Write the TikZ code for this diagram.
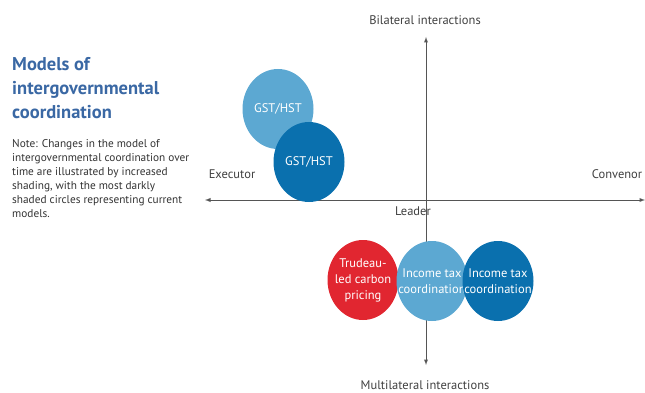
\documentclass[tikz,border=0pt]{standalone}
\usepackage{fontspec}
\setmainfont{PT Sans}
\usetikzlibrary{shapes.geometric}

\definecolor{paleblue}{RGB}{92,168,210}
\definecolor{deepblue}{RGB}{10,112,174}
\definecolor{carbonred}{RGB}{225,38,48}
\definecolor{titleblue}{RGB}{58,104,164}
\definecolor{axisgray}{RGB}{85,85,85}

\begin{document}
	\begin{tikzpicture}[x=1pt,y=-1pt,>=latex,
			axis/.style={draw=axisgray, line width=0.9pt},
			axislabel/.style={text=black!75, font=\fontsize{12.5}{14}\selectfont},
			bubble/.style={ellipse, minimum width=71pt, minimum height=80pt, inner sep=0pt},
			past/.style={bubble, fill=paleblue},
			current/.style={bubble, fill=deepblue},
			carbon/.style={bubble, fill=carbonred},
			bubbletext/.style={text=white, align=center, font=\fontsize{12.5}{16}\selectfont}]
		\useasboundingbox (0,0) rectangle (645,393);

		% heading and note
		\node [anchor=north west, align=left, text=titleblue, inner sep=0pt,
			font=\fontsize{18.5}{24}\selectfont\bfseries] (title) at (12,57)
			{Models of\\ intergovernmental\\ coordination};
		\node [anchor=north west, align=left, text=black!80, inner sep=0pt,
			font=\fontsize{11.3}{14}\selectfont] (note) at (12,139)
			{Note: Changes in the model of\\ intergovernmental coordination over\\ time are illustrated by increased\\ shading, with the most darkly\\ shaded circles representing current\\ models.};

		% axes
		\coordinate (top) at (426,37);
		\coordinate (bottom) at (426,365);
		\coordinate (left) at (205,200);
		\coordinate (right) at (645,200);
		\draw [axis, <->] (bottom) -- (top);
		\draw [axis, <->] (left) -- (right);

		\node [axislabel] (bilateral) at (425,20) {Bilateral interactions};
		\node [axislabel] (multilateral) at (425,385) {Multilateral interactions};
		\node [axislabel] (executor) at (232,174) {Executor};
		\node [axislabel] (convenor) at (617,174) {Convenor};
		\node [axislabel] (leader) at (413,211) {Leader};

		% circles
		\node [past, label={[bubbletext]center:GST/HST}] (gstold) at (278,109) {};
		\node [current, label={[bubbletext]center:GST/HST}] (gstnew) at (309,162) {};
		\node [carbon, label={[bubbletext]center:Trudeau-\\led carbon\\pricing}] (carbon) at (363,280) {};
		\node [past, label={[bubbletext]center:Income tax\\coordination}] (taxold) at (432,281) {};
		\node [current, label={[bubbletext]center:Income tax\\coordination}] (taxnew) at (498,281) {};
	\end{tikzpicture}
\end{document}
